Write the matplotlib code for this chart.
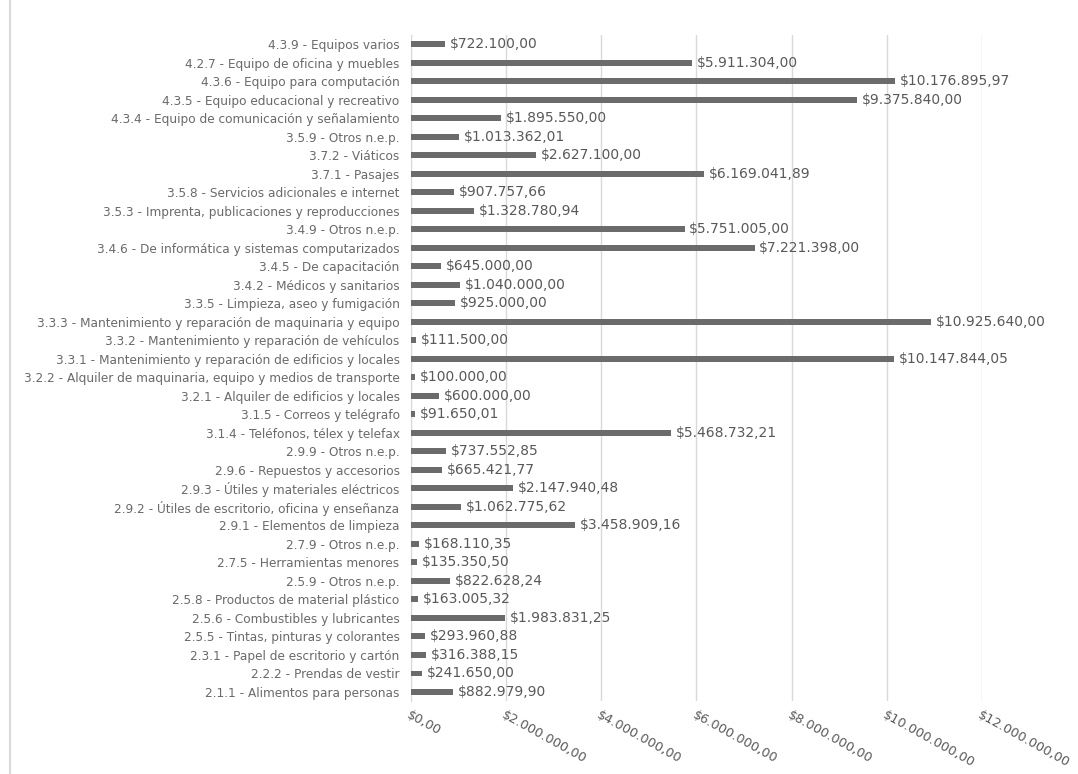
import matplotlib
matplotlib.use("Agg")
import matplotlib.pyplot as plt
from matplotlib.ticker import FuncFormatter
from matplotlib.lines import Line2D

# categories top to bottom as they appear in the chart
categorias = [
    "4.3.9 - Equipos varios",
    "4.2.7 - Equipo de oficina y muebles",
    "4.3.6 - Equipo para computación",
    "4.3.5 - Equipo educacional y recreativo",
    "4.3.4 - Equipo de comunicación y señalamiento",
    "3.5.9 - Otros n.e.p.",
    "3.7.2 - Viáticos",
    "3.7.1 - Pasajes",
    "3.5.8 - Servicios adicionales e internet",
    "3.5.3 - Imprenta, publicaciones y reproducciones",
    "3.4.9 - Otros n.e.p.",
    "3.4.6 - De informática y sistemas computarizados",
    "3.4.5 - De capacitación",
    "3.4.2 - Médicos y sanitarios",
    "3.3.5 - Limpieza, aseo y fumigación",
    "3.3.3 - Mantenimiento y reparación de maquinaria y equipo",
    "3.3.2 - Mantenimiento y reparación de vehículos",
    "3.3.1 - Mantenimiento y reparación de edificios y locales",
    "3.2.2 - Alquiler de maquinaria, equipo y medios de transporte",
    "3.2.1 - Alquiler de edificios y locales",
    "3.1.5 - Correos y telégrafo",
    "3.1.4 - Teléfonos, télex y telefax",
    "2.9.9 - Otros n.e.p.",
    "2.9.6 - Repuestos y accesorios",
    "2.9.3 - Útiles y materiales eléctricos",
    "2.9.2 - Útiles de escritorio, oficina y enseñanza",
    "2.9.1 - Elementos de limpieza",
    "2.7.9 - Otros n.e.p.",
    "2.7.5 - Herramientas menores",
    "2.5.9 - Otros n.e.p.",
    "2.5.8 - Productos de material plástico",
    "2.5.6 - Combustibles y lubricantes",
    "2.5.5 - Tintas, pinturas y colorantes",
    "2.3.1 - Papel de escritorio y cartón",
    "2.2.2 - Prendas de vestir",
    "2.1.1 - Alimentos para personas",
]

montos = [
    722100.00, 5911304.00, 10176895.97, 9375840.00, 1895550.00,
    1013362.01, 2627100.00, 6169041.89, 907757.66, 1328780.94,
    5751005.00, 7221398.00, 645000.00, 1040000.00, 925000.00,
    10925640.00, 111500.00, 10147844.05, 100000.00, 600000.00,
    91650.01, 5468732.21, 737552.85, 665421.77, 2147940.48,
    1062775.62, 3458909.16, 168110.35, 135350.50, 822628.24,
    163005.32, 1983831.25, 293960.88, 316388.15, 241650.00,
    882979.90,
]

ticks_x = [0, 2e6, 4e6, 6e6, 8e6, 10e6, 12e6]


def pesos(v):
    s = f"{v:,.2f}"
    s = s.replace(",", "X").replace(".", ",").replace("X", ".")
    return "$" + s


gris = "#595959"
fig = plt.figure(figsize=(10.78, 7.74), dpi=100)
ax = fig.add_axes([0.381, 0.094, 0.530, 0.861])

y = list(range(len(categorias)))[::-1]
ax.barh(y, montos, height=0.32, color="#6b6b6b", zorder=3)

for yi, v in zip(y, montos):
    ax.text(v + 0.1e6, yi, pesos(v), va="center", ha="left",
            fontsize=10, color=gris, zorder=4)

ax.set_yticks(y)
ax.set_yticklabels(categorias, fontsize=8.7, color="#6a6a6a")
ax.set_ylim(-0.5, len(categorias) - 0.5)
ax.set_xlim(0, 12e6)
ax.set_xticks(ticks_x)
ax.xaxis.set_major_formatter(FuncFormatter(lambda v, p: pesos(v)))
for lab in ax.get_xticklabels():
    lab.set_rotation(-29)
    lab.set_ha("left")
    lab.set_va("top")
    lab.set_fontsize(9.3)
    lab.set_color(gris)
    lab.set_rotation_mode("anchor")

ax.grid(axis="x", color="#d9d9d9", linewidth=1, zorder=0)
ax.tick_params(axis="y", length=0, pad=8)
ax.tick_params(axis="x", length=0, pad=5)
for s in ["top", "right", "bottom"]:
    ax.spines[s].set_visible(False)
ax.spines["left"].set_color("#d9d9d9")

# chart border on the left
fig.add_artist(Line2D([0.009, 0.009], [0.0, 1.0], color="#d9d9d9",
                      linewidth=1.5, transform=fig.transFigure))

fig.savefig("out.png", dpi=100)
